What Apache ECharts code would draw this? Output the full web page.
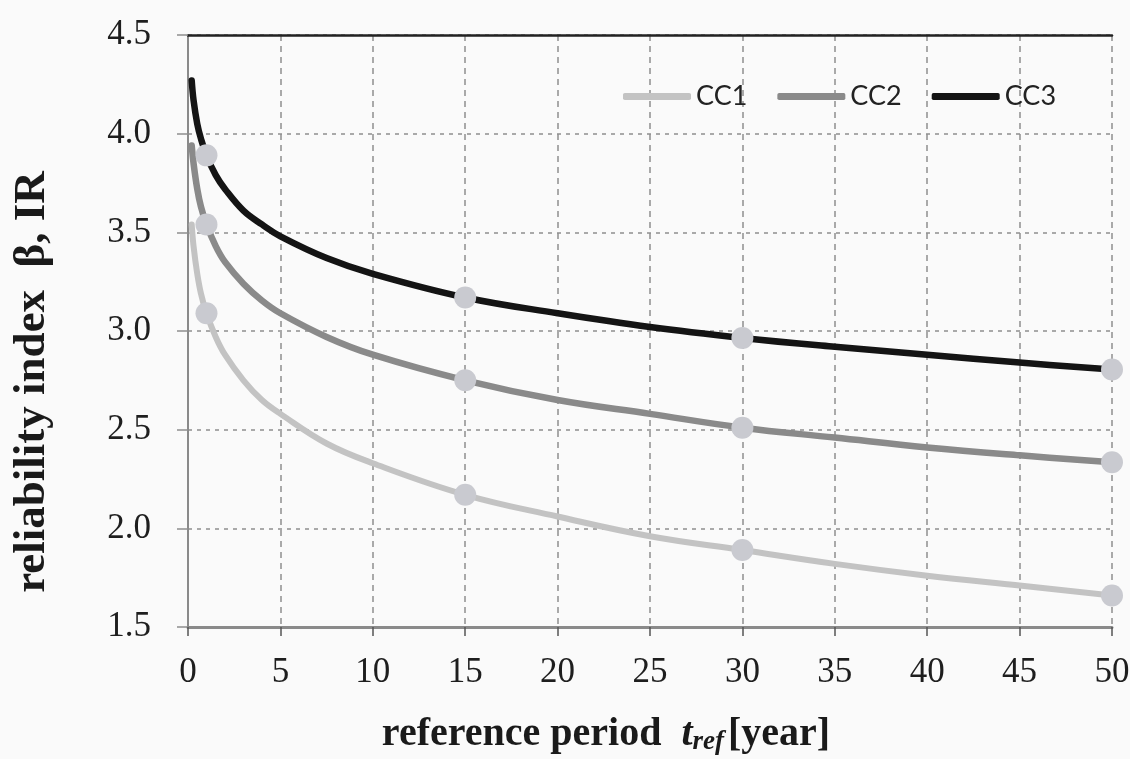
<!DOCTYPE html>
<html>
<head>
<meta charset="utf-8">
<script src="https://cdn.jsdelivr.net/npm/echarts@6/dist/echarts.min.js"></script>
<style>
html,body{margin:0;padding:0;background:#fafafa;}
#chart{width:1130px;height:759px;}
</style>
</head>
<body>
<div id="chart"></div>
<script>
// reference period t [year]
var tYears = [0.2, 0.3, 0.5, 0.7, 1, 1.5, 2, 3, 4, 5, 7.5, 10, 15, 20, 25, 30, 35, 40, 45, 50];
// reliability index values
var cc1 = [3.54, 3.43, 3.29, 3.19, 3.09, 2.97, 2.88, 2.75, 2.65, 2.58, 2.43, 2.33, 2.17, 2.06, 1.96, 1.89, 1.82, 1.76, 1.71, 1.66];
var cc2 = [3.94, 3.85, 3.72, 3.63, 3.54, 3.43, 3.35, 3.24, 3.155, 3.09, 2.97, 2.88, 2.75, 2.65, 2.58, 2.51, 2.46, 2.41, 2.37, 2.335];
var cc3 = [4.27, 4.17, 4.05, 3.975, 3.89, 3.79, 3.72, 3.61, 3.54, 3.48, 3.37, 3.29, 3.17, 3.09, 3.02, 2.965, 2.92, 2.88, 2.84, 2.805];
var markerYears = [1, 15, 30, 50];
var seriesNames = ['CC1', 'CC2', 'CC3'];
var xTicks = {min: 0, max: 50, step: 5};
var yTicks = {min: 1.5, max: 4.5, step: 0.5};

var lineColors = ['#c3c3c3', '#8a8a8a', '#141414'];
var lineWidths = [6, 6.5, 6.5];
var markerColor = '#c9cad0';
var serif = '"Liberation Serif", "Times New Roman", serif';

function pairs(vals) {
  return tYears.map(function (t, i) { return [t, vals[i]]; });
}
function markerPairs(vals) {
  var out = [];
  tYears.forEach(function (t, i) {
    if (markerYears.indexOf(t) >= 0) out.push([t, vals[i]]);
  });
  return out;
}
var allVals = [cc1, cc2, cc3];
var series = [];
allVals.forEach(function (v, k) {
  series.push({
    name: seriesNames[k],
    type: 'line',
    data: pairs(v),
    smooth: 0.4,
    symbol: 'none',
    lineStyle: {color: lineColors[k], width: lineWidths[k], cap: 'round', join: 'round'},
    itemStyle: {color: lineColors[k]},
    z: 2
  });
});
allVals.forEach(function (v, k) {
  series.push({
    name: seriesNames[k] + ' points',
    type: 'scatter',
    data: markerPairs(v),
    symbol: 'circle',
    symbolSize: 22,
    itemStyle: {color: markerColor, opacity: 1},
    z: 5
  });
});

var chart = echarts.init(document.getElementById('chart'), null, {renderer: 'canvas'});
chart.setOption({
  backgroundColor: '#fafafa',
  animation: false,
  legend: {
    data: seriesNames,
    icon: 'roundRect',
    left: 618,
    top: 78,
    itemWidth: 68,
    itemHeight: 7,
    itemGap: 30,
    textStyle: {fontFamily: 'Lato, "Liberation Sans", sans-serif', fontSize: 27, color: '#222'}
  },
  grid: {left: 188, right: 18, top: 35, bottom: 132, containLabel: false, outerBoundsMode: 'none'},
  xAxis: [{
    type: 'value',
    min: xTicks.min, max: xTicks.max, interval: xTicks.step,
    name: 'reference period  {it|t}{sub|ref}[year]',
    nameLocation: 'middle',
    nameGap: 86,
    nameTextStyle: {
      fontFamily: serif, fontSize: 40, fontWeight: 'bold', color: '#1a1a1a',
      padding: [0, 88, 0, 0],
      rich: {
        it: {fontFamily: serif, fontSize: 40, fontWeight: 'bold', fontStyle: 'italic', color: '#1a1a1a'},
        sub: {fontFamily: serif, fontSize: 27, fontWeight: 'bold', fontStyle: 'italic', color: '#1a1a1a', padding: [16, 4, 0, 0]}
      }
    },
    axisLine: {show: true, onZero: false, lineStyle: {color: '#8a8a8a', width: 3}},
    axisTick: {show: true, inside: false, length: 9, lineStyle: {color: '#555', width: 1.5}},
    axisLabel: {fontFamily: serif, fontSize: 35, color: '#1e1e1e', margin: 28},
    splitLine: {show: true, lineStyle: {color: '#8f8f8f', width: 1.5, type: [6, 5]}}
  }, {
    type: 'value',
    position: 'top',
    min: xTicks.min, max: xTicks.max, interval: xTicks.step,
    axisLine: {show: true, onZero: false, lineStyle: {color: '#222', width: 2.5}},
    axisTick: {show: false},
    axisLabel: {show: false},
    splitLine: {show: false}
  }],
  yAxis: {
    type: 'value',
    min: yTicks.min, max: yTicks.max, interval: yTicks.step,
    name: 'reliability index  β, IR',
    nameLocation: 'middle',
    nameGap: 133,
    nameTextStyle: {fontFamily: serif, fontSize: 45, fontWeight: 'bold', color: '#1a1a1a', padding: [0, 102, 0, 0]},
    axisLine: {show: true, onZero: false, lineStyle: {color: '#8a8a8a', width: 2}},
    axisTick: {show: true, inside: false, length: 11, lineStyle: {color: '#8f8f8f', width: 1.5}},
    axisLabel: {fontFamily: serif, fontSize: 35, color: '#1e1e1e', margin: 37,
      formatter: function (v) { return v.toFixed(1); }},
    splitLine: {show: true, lineStyle: {color: '#8f8f8f', width: 1.5, type: [4, 5]}}
  },
  series: series
});
</script>
</body>
</html>
